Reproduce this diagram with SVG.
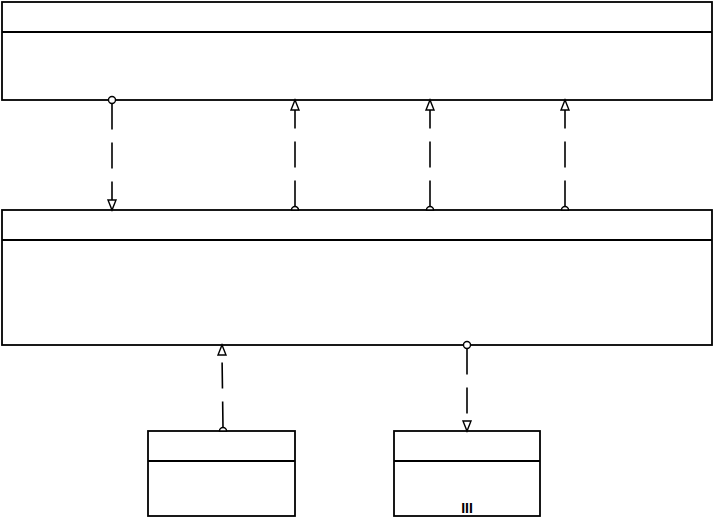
<svg xmlns="http://www.w3.org/2000/svg" width="714" height="519" viewBox="0 0 714 519">
<style>
.box{fill:#fff;stroke:#000;stroke-width:1.8}
.hdr{stroke:#000;stroke-width:1.8}
.dep{stroke:#000;stroke-width:1.6;fill:none;stroke-dasharray:26 13}
.head{fill:#fff;stroke:#000;stroke-width:1.4}
.lbl{font-family:"Liberation Sans",Arial,sans-serif;font-size:14px;font-weight:bold}
</style>
<rect width="714" height="519" fill="#fff"/>
<g id="node-top">
<rect class="box" x="2" y="2" width="710" height="98"/>
<line class="hdr" x1="2" y1="32" x2="712" y2="32"/>
</g>
<g id="node-middle">
<rect class="box" x="2" y="210" width="710" height="135"/>
<line class="hdr" x1="2" y1="240" x2="712" y2="240"/>
</g>
<g id="node-bottom-left">
<rect class="box" x="148" y="431" width="147" height="85"/>
<line class="hdr" x1="148" y1="461" x2="295" y2="461"/>
</g>
<g id="node-bottom-right">
<rect class="box" x="394" y="431" width="146" height="85"/>
<line class="hdr" x1="394" y1="461" x2="540" y2="461"/>
<text class="lbl" x="467" y="512.5" text-anchor="middle">III</text>
</g>
<g id="connectors">
<path class="dep" d="M112 103.5 V201"/>
<circle class="head" cx="112" cy="100" r="3.5"/>
<path class="head" d="M108 200 L116 200 L112 210 Z"/>
<path class="dep" d="M295 206.5 V109"/>
<path class="head" d="M291.5 210 A3.5 3.5 0 0 1 298.5 210 Z"/>
<path class="head" d="M291 110 L299 110 L295 100 Z"/>
<path class="dep" d="M430 206.5 V109"/>
<path class="head" d="M426.5 210 A3.5 3.5 0 0 1 433.5 210 Z"/>
<path class="head" d="M426 110 L434 110 L430 100 Z"/>
<path class="dep" d="M565 206.5 V109"/>
<path class="head" d="M561.5 210 A3.5 3.5 0 0 1 568.5 210 Z"/>
<path class="head" d="M561 110 L569 110 L565 100 Z"/>
<path class="dep" d="M223 427.5 L222 354"/>
<path class="head" d="M219.5 431 A3.5 3.5 0 0 1 226.5 431 Z"/>
<path class="head" d="M218 355 L226 355 L222 345 Z"/>
<path class="dep" d="M467 348.5 V422"/>
<circle class="head" cx="467" cy="345" r="3.5"/>
<path class="head" d="M463 421 L471 421 L467 431 Z"/>
</g>
</svg>
